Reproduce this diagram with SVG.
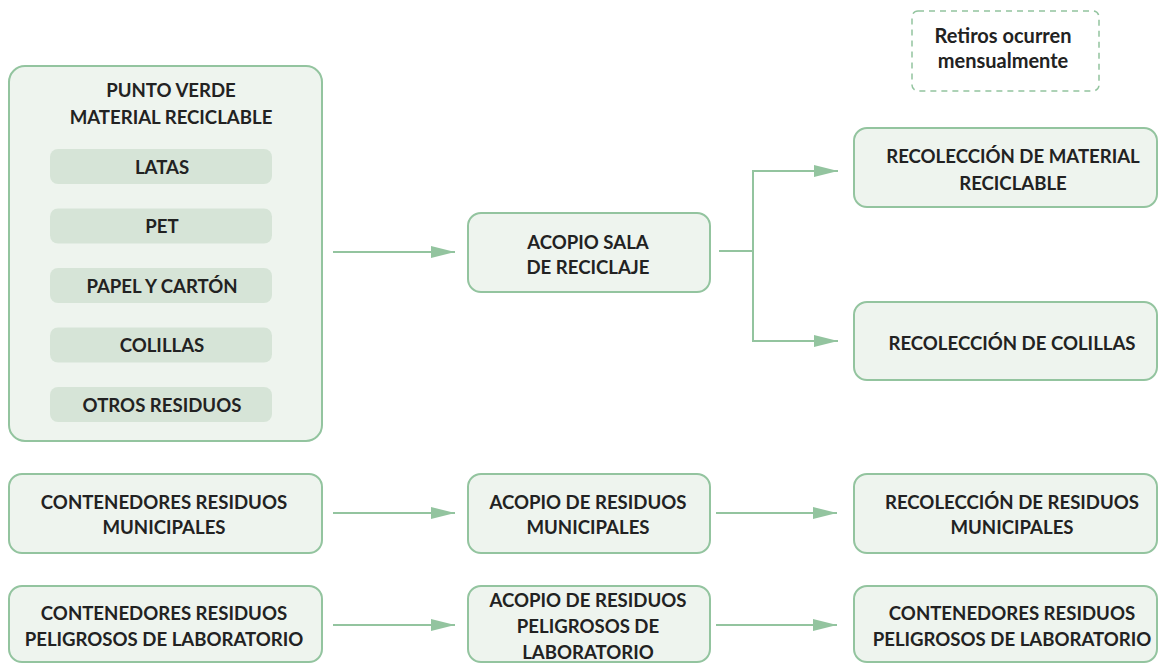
<svg xmlns="http://www.w3.org/2000/svg" width="1159" height="664" viewBox="0 0 1159 664">
<defs>
<style>
.box{fill:#eef4ee;stroke:#93c49f;stroke-width:2}
.item{fill:#d6e4d7;stroke:none}
.dash{fill:#ffffff;stroke:#93c49f;stroke-width:1.5;stroke-dasharray:6 5}
.t{font-family:Lato,"Liberation Sans",sans-serif;font-weight:bold;font-size:18.6px;fill:#222222;text-anchor:middle}
.n{font-size:20px}
.c{fill:none;stroke:#93c49f;stroke-width:2}
</style>
<marker id="ah2" viewBox="0 0 24 12" refX="24" refY="6" markerWidth="24" markerHeight="12" orient="auto" markerUnits="userSpaceOnUse">
<path d="M0,0 L24,6 L0,12 Z" fill="#93c49f"/>
</marker>
</defs>

<g id="note">
<rect class="dash" x="912" y="11" width="187" height="80" rx="6"/>
<text class="t n" x="1003" y="43">Retiros ocurren</text>
<text class="t n" x="1003" y="68">mensualmente</text>
</g>

<g id="punto-verde">
<rect class="box" x="9" y="66" width="313" height="375" rx="16"/>
<text class="t" x="171" y="97">PUNTO VERDE</text>
<text class="t" x="171" y="124">MATERIAL RECICLABLE</text>
</g>
<g id="latas"><rect class="item" x="50" y="149" width="222" height="35" rx="8"/><text class="t" x="162" y="173.5">LATAS</text></g>
<g id="pet"><rect class="item" x="50" y="208.5" width="222" height="35" rx="8"/><text class="t" x="162" y="233">PET</text></g>
<g id="papel"><rect class="item" x="50" y="268" width="222" height="35" rx="8"/><text class="t" x="162" y="292.5">PAPEL Y CARTÓN</text></g>
<g id="colillas"><rect class="item" x="50" y="327.5" width="222" height="35" rx="8"/><text class="t" x="162" y="352">COLILLAS</text></g>
<g id="otros"><rect class="item" x="50" y="387" width="222" height="35" rx="8"/><text class="t" x="162" y="411.5">OTROS RESIDUOS</text></g>

<g id="acopio-sala">
<rect class="box" x="468" y="213" width="242" height="79" rx="13"/>
<text class="t" x="588" y="249">ACOPIO SALA</text>
<text class="t" x="588" y="274">DE RECICLAJE</text>
</g>

<g id="recol-material">
<rect class="box" x="854" y="128" width="303" height="79" rx="13"/>
<text class="t" x="1013" y="163">RECOLECCIÓN DE MATERIAL</text>
<text class="t" x="1013" y="190">RECICLABLE</text>
</g>

<g id="recol-colillas">
<rect class="box" x="854" y="302" width="303" height="78" rx="13"/>
<text class="t" x="1012" y="350">RECOLECCIÓN DE COLILLAS</text>
</g>

<g id="cont-municipales">
<rect class="box" x="9" y="474" width="313" height="79" rx="13"/>
<text class="t" x="164" y="509">CONTENEDORES RESIDUOS</text>
<text class="t" x="164" y="534">MUNICIPALES</text>
</g>

<g id="acopio-municipales">
<rect class="box" x="468" y="474" width="242" height="79" rx="13"/>
<text class="t" x="588" y="509">ACOPIO DE RESIDUOS</text>
<text class="t" x="588" y="534">MUNICIPALES</text>
</g>

<g id="recol-municipales">
<rect class="box" x="854" y="474" width="303" height="79" rx="13"/>
<text class="t" x="1012" y="509">RECOLECCIÓN DE RESIDUOS</text>
<text class="t" x="1012" y="534">MUNICIPALES</text>
</g>

<g id="cont-peligrosos">
<rect class="box" x="9" y="586" width="313" height="76" rx="13"/>
<text class="t" x="164" y="620">CONTENEDORES RESIDUOS</text>
<text class="t" x="164" y="646">PELIGROSOS DE LABORATORIO</text>
</g>

<g id="acopio-peligrosos">
<rect class="box" x="468" y="586" width="242" height="76" rx="13"/>
<text class="t" x="588" y="607">ACOPIO DE RESIDUOS</text>
<text class="t" x="588" y="633">PELIGROSOS DE</text>
<text class="t" x="588" y="659">LABORATORIO</text>
</g>

<g id="recol-peligrosos">
<rect class="box" x="854" y="586" width="303" height="76" rx="13"/>
<text class="t" x="1012" y="620">CONTENEDORES RESIDUOS</text>
<text class="t" x="1012" y="646">PELIGROSOS DE LABORATORIO</text>
</g>

<g id="connectors">
<path class="c" d="M333,252 H455" marker-end="url(#ah2)"/>
<path class="c" d="M719,251 H753"/>
<path class="c" d="M753,171 V341"/>
<path class="c" d="M752,171 H838" marker-end="url(#ah2)"/>
<path class="c" d="M752,341 H838" marker-end="url(#ah2)"/>
<path class="c" d="M333,513 H455" marker-end="url(#ah2)"/>
<path class="c" d="M716,513 H837" marker-end="url(#ah2)"/>
<path class="c" d="M333,625 H455" marker-end="url(#ah2)"/>
<path class="c" d="M716,625 H837" marker-end="url(#ah2)"/>
</g>
</svg>
